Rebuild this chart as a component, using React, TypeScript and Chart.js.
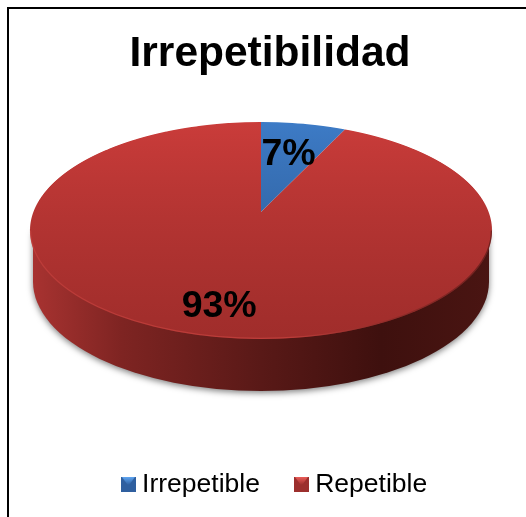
import React, { useEffect, useRef } from "react";
import { Chart, registerables } from "chart.js";

Chart.register(...registerables);

const titleText = "Irrepetibilidad";
const categories = ["Irrepetible", "Repetible"];
const values = [7, 93];
const sliceTop = ["#3d7bc6", "#ca3c3a"];
const sliceBottom = ["#2c5a94", "#a02d2b"];
const markerBase = ["#2f5f9f", "#9c2f2d"];
const markerLight = ["#5fa6f2", "#ea5c58"];
const labelReach = [0.61, 0.8];
const labelNudgeX = [0, 4];
const FONT = '"Liberation Sans", Arial, sans-serif';

// perspective of the pie's top face
const CX = 261, APEX_Y = 212, TOP_Y = 122, BOTTOM_Y = 339;
const BACK = APEX_Y - TOP_Y, FRONT = BOTTOM_Y - APEX_Y;
const K = (BACK - FRONT) / (BACK + FRONT);
const B = BACK * (1 - K);
const RX = 231;
const R = RX * Math.sqrt(1 - K * K);
const ELL_CY = (TOP_Y + BOTTOM_Y) / 2;
const ELL_RY = (BOTTOM_Y - TOP_Y) / 2;
const DEPTH = 52;

const project = (u: number, v: number) => {
  const s = 1 / (1 + K * v);
  return { x: CX + R * u * s, y: APEX_Y + B * v * s };
};

function makeMarker(i: number) {
  const c = document.createElement("canvas");
  c.width = 15;
  c.height = 15;
  const g = c.getContext("2d")!;
  g.fillStyle = markerBase[i];
  g.fillRect(0, 0, 15, 15);
  const grad = g.createLinearGradient(0, 0, 0, 8);
  grad.addColorStop(0, markerLight[i]);
  grad.addColorStop(1, markerBase[i]);
  g.fillStyle = grad;
  g.beginPath();
  g.moveTo(1, 0);
  g.lineTo(14, 0);
  g.lineTo(7.5, 9);
  g.closePath();
  g.fill();
  return c;
}

const framePlugin = {
  id: "frame",
  beforeDraw(chart: any) {
    const { ctx, width, height } = chart;
    ctx.save();
    ctx.fillStyle = "#fff";
    ctx.fillRect(0, 0, width, height);
    ctx.fillStyle = "#000";
    ctx.fillRect(7, 7, width - 7, 2);
    ctx.fillRect(7, 7, 2, height - 7);
    ctx.restore();
  },
};

const layoutPlugin = {
  id: "legendShift",
  afterLayout(chart: any) {
    const l = chart.legend;
    const dx = 7.5;
    l.left += dx;
    l.right += dx;
    const dy = 484.5 - (l.top + l.options.labels.padding + l.options.labels.font.size / 2);
    l.top += dy;
    l.bottom += dy;
  },
};

const pie3dPlugin = {
  id: "pie3d",
  beforeDatasetsDraw(chart: any) {
    const { ctx } = chart;
    const arcs = chart.getDatasetMeta(0).data;
    const first = arcs[0];
    const ax = first.x, ay = first.y, r = first.outerRadius;

    // side wall
    const wallRx = RX - 3;
    const wallCy = BOTTOM_Y + DEPTH - ELL_RY - 1;
    const wall = ctx.createLinearGradient(CX - RX, 0, CX + RX, 0);
    wall.addColorStop(0, "#a93331");
    wall.addColorStop(0.2, "#7e2422");
    wall.addColorStop(0.5, "#591917");
    wall.addColorStop(0.76, "#3e100e");
    wall.addColorStop(1, "#4a1512");
    ctx.save();
    ctx.shadowColor = "rgba(0,0,0,0.5)";
    ctx.shadowBlur = 6;
    ctx.shadowOffsetY = 2;
    ctx.fillStyle = wall;
    ctx.beginPath();
    ctx.moveTo(CX - wallRx, ELL_CY);
    ctx.lineTo(CX + wallRx, ELL_CY);
    ctx.lineTo(CX + wallRx, wallCy);
    ctx.ellipse(CX, wallCy, wallRx, ELL_RY + 1, 0, 0, Math.PI);
    ctx.closePath();
    ctx.fill();
    ctx.restore();

    // top face: the library's arcs, drawn strip by strip through the perspective
    for (let y = TOP_Y - 1; y <= BOTTOM_Y; y++) {
      const t = y + 0.5 - APEX_Y;
      const v = t / (B - K * t);
      const s = 1 / (1 + K * v);
      const a = (R * s) / r;
      const d = (B * s * s) / r;
      ctx.save();
      ctx.beginPath();
      ctx.rect(0, y, chart.width, 1);
      ctx.clip();
      ctx.setTransform(a, 0, 0, d, CX - a * ax, y + 0.5 - d * (ay + r * v));
      arcs.forEach((el: any) => el.draw(ctx, chart.chartArea));
      ctx.restore();
    }

    // rim highlight on the front edge
    const rim = ctx.createLinearGradient(CX - RX, 0, CX + RX, 0);
    rim.addColorStop(0, "rgba(205,70,66,0.5)");
    rim.addColorStop(0.55, "rgba(210,72,68,0.6)");
    rim.addColorStop(0.8, "rgba(120,40,36,0.5)");
    rim.addColorStop(1, "rgba(70,20,18,0.6)");
    ctx.save();
    ctx.strokeStyle = rim;
    ctx.lineWidth = 1.2;
    ctx.beginPath();
    ctx.ellipse(CX, ELL_CY, RX - 0.6, ELL_RY - 0.6, 0, 0, Math.PI);
    ctx.stroke();
    ctx.restore();

    // percentage labels
    ctx.save();
    ctx.fillStyle = "#000";
    ctx.font = `bold 37.5px ${FONT}`;
    ctx.textAlign = "center";
    ctx.textBaseline = "middle";
    arcs.forEach((el: any, i: number) => {
      const mid = (el.startAngle + el.endAngle) / 2;
      const p = project(Math.cos(mid) * labelReach[i], Math.sin(mid) * labelReach[i]);
      ctx.fillText(`${values[i]}%`, p.x + labelNudgeX[i], p.y);
    });
    ctx.restore();
    return false;
  },
};

export default function App() {
  const ref = useRef<HTMLCanvasElement>(null);
  useEffect(() => {
    const markers = categories.map((_, i) => makeMarker(i));
    const shade = (i: number) => (c: any) => {
      const area = c.chart.chartArea;
      if (!area) return sliceTop[i];
      const g = c.chart.ctx.createLinearGradient(0, area.top, 0, area.bottom);
      g.addColorStop(0, sliceTop[i]);
      g.addColorStop(1, sliceBottom[i]);
      return g;
    };
    const chart = new Chart(ref.current!, {
      type: "pie",
      data: {
        labels: categories,
        datasets: [
          {
            data: values,
            borderWidth: 0,
            backgroundColor: (c: any) => shade(c.dataIndex)(c),
          },
        ],
      },
      options: {
        responsive: false,
        animation: false,
        layout: { padding: { left: 14 } },
        plugins: {
          title: {
            display: true,
            text: titleText,
            color: "#000",
            font: { family: FONT, size: 42.5, weight: "bold" },
            padding: { top: 29, bottom: 20 },
          },
          legend: {
            position: "bottom",
            labels: {
              color: "#000",
              font: { family: FONT, size: 26.5 },
              usePointStyle: true,
              boxWidth: 1,
              boxHeight: 1,
              padding: 41,
              generateLabels: () =>
                categories.map((text, i) => ({
                  text,
                  pointStyle: markers[i],
                  fillStyle: markerBase[i],
                  strokeStyle: markerBase[i],
                  lineWidth: 0,
                  index: i,
                })),
            },
          },
          tooltip: { enabled: false },
        },
      },
      plugins: [framePlugin, layoutPlugin, pie3dPlugin],
    } as any);
    return () => chart.destroy();
  }, []);
  return (
    <div style={{ position: "absolute", left: 0, top: 0, width: 526, height: 517, overflow: "hidden" }}>
      <canvas ref={ref} width={526} height={517} style={{ display: "block" }} />
    </div>
  );
}
